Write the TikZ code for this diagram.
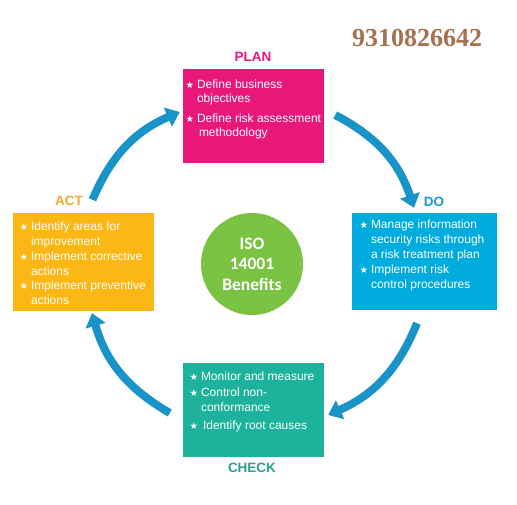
\documentclass[tikz,border=0pt]{standalone}
\usepackage{fontspec}
\setmainfont{Liberation Sans}
\newfontfamily\symfont{DejaVu Sans}
\newfontfamily\circfont{Carlito}
\newfontfamily\phonefont{Liberation Serif}
\usetikzlibrary{arrows.meta,positioning}

\definecolor{plancol}{RGB}{232,23,122}
\definecolor{docol}{RGB}{0,171,222}
\definecolor{checkcol}{RGB}{28,178,155}
\definecolor{actcol}{RGB}{253,183,20}
\definecolor{dolab}{RGB}{25,155,215}
\definecolor{checklab}{RGB}{40,160,145}
\definecolor{actlab}{RGB}{240,168,50}
\definecolor{isocol}{RGB}{122,194,66}
\definecolor{cyclecol}{RGB}{24,148,200}
\definecolor{phonecol}{RGB}{168,112,78}

\newcommand{\st}{\makebox[11pt][l]{\hspace*{-0.5pt}\symfont\fontsize{9.5}{9.5}\selectfont ★}}
\newcommand{\ind}{\hspace*{11pt}}

\begin{document}
\begin{tikzpicture}[x=1pt,y=-1pt,
  box/.style={minimum width=141pt, minimum height=94pt, inner sep=0pt},
  txt/.style={anchor=north west, align=left, inner sep=0pt, text=white, font=\fontsize{12}{15}\selectfont},
  stage/.style={font=\bfseries\fontsize{13.5}{16}\selectfont},
  cycle/.style={-{Triangle[length=13pt,width=20pt]}, line width=8pt, draw=cyclecol, bend left=22}
]
  \useasboundingbox (0,0) rectangle (517,504);

  % phone number
  \node[font=\phonefont\bfseries\fontsize{26}{28}\selectfont, text=phonecol] (phone) at (417,38) {9310826642};

  % stage boxes
  \node[box, fill=plancol] (plan) at (253.5,116) {};
  \node[box, fill=docol, minimum width=145pt, minimum height=97pt] (do) at (424.5,261.5) {};
  \node[box, fill=checkcol] (check) at (253.5,410) {};
  \node[box, fill=actcol, minimum height=98pt] (act) at (83.5,262) {};

  % stage texts
  \node[txt, font=\fontsize{12}{13.5}\selectfont] (plantxt) at ([shift={(3pt,-11pt)}]plan.north west)
    {\st Define business\\\ind objectives\\[7pt]\st Define risk assessment\\\ind\,methodology};
  \node[txt] (dotxt) at ([shift={(8pt,-7pt)}]do.north west)
    {\st Manage information\\\ind security risks through\\\ind a risk treatment plan\\\st Implement risk\\\ind control procedures};
  \node[txt, font=\fontsize{12}{15.5}\selectfont] (checktxt) at ([shift={(7pt,-9pt)}]check.north west)
    {\st Monitor and measure\\\st Control non-\\\ind conformance\\[2.5pt]\st\,Identify root causes};
  \node[txt, font=\fontsize{12}{14.8}\selectfont] (acttxt) at ([shift={(7pt,-9pt)}]act.north west)
    {\st Identify areas for\\\ind improvement\\\st Implement corrective\\\ind actions\\\st Implement preventive\\\ind actions};

  % stage labels
  \node[stage, text=plancol] (planlbl) at (253,57) {PLAN};
  \node[stage, text=dolab] (dolbl) at (434,202) {DO};
  \node[stage, text=checklab] (checklbl) at (252,468) {CHECK};
  \node[stage, text=actlab] (actlbl) at (69,201) {ACT};

  % centre
  \node[circle, fill=isocol, minimum size=102pt, inner sep=0pt, text=white, align=center,
        font=\circfont\bfseries\fontsize{17.5}{20.5}\selectfont] (iso) at (252,264) {ISO\\14001\\Benefits};

  % cycle arrows
  \draw[cycle] ([shift={(9pt,13pt)}]act.north) to ([shift={(-3pt,4pt)}]plan.west);
  \draw[cycle] ([shift={(11pt,1pt)}]plan.east) to ([shift={(-10.5pt,5pt)}]do.north);
  \draw[cycle] ([shift={(-7.5pt,-13pt)}]do.south) to ([shift={(4pt,-5pt)}]check.east);
  \draw[cycle] ([shift={(-13pt,-3pt)}]check.west) to ([shift={(8.5pt,-2pt)}]act.south);
\end{tikzpicture}
\end{document}
